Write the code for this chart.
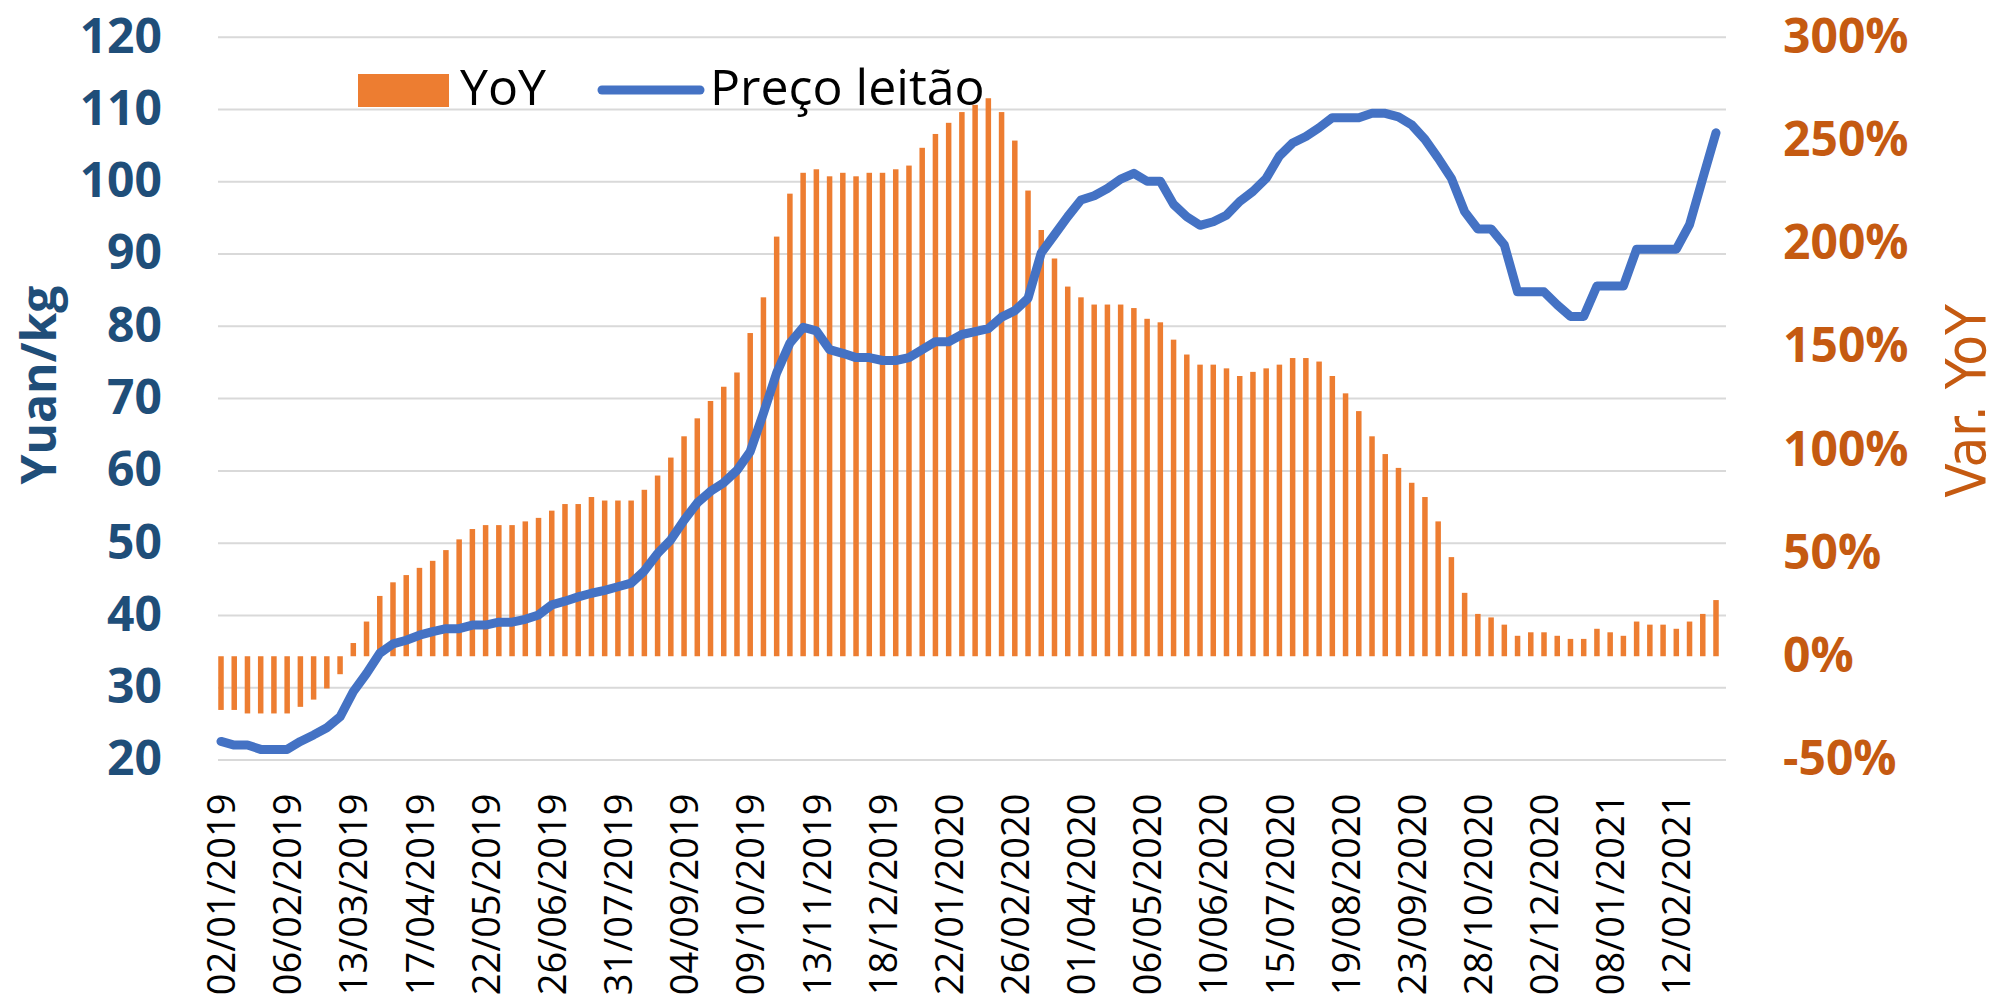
<!DOCTYPE html>
<html>
<head>
<meta charset="utf-8">
<script src="https://cdn.jsdelivr.net/npm/d3@7"></script>
<style>
  body { margin: 0; background: #fff; }
  svg { display: block; font-family: 'Open Sans', sans-serif; }
</style>
</head>
<body>
<div id="chart"></div>
<script>
// weekly dates (category axis)
const dates = [
  '02/01/2019', '09/01/2019', '16/01/2019', '23/01/2019', '30/01/2019', '06/02/2019', '13/02/2019', '20/02/2019', '27/02/2019', '06/03/2019',
  '13/03/2019', '20/03/2019', '27/03/2019', '03/04/2019', '10/04/2019', '17/04/2019', '24/04/2019', '01/05/2019', '08/05/2019', '15/05/2019',
  '22/05/2019', '29/05/2019', '05/06/2019', '12/06/2019', '19/06/2019', '26/06/2019', '03/07/2019', '10/07/2019', '17/07/2019', '24/07/2019',
  '31/07/2019', '07/08/2019', '14/08/2019', '21/08/2019', '28/08/2019', '04/09/2019', '11/09/2019', '18/09/2019', '25/09/2019', '02/10/2019',
  '09/10/2019', '16/10/2019', '23/10/2019', '30/10/2019', '06/11/2019', '13/11/2019', '20/11/2019', '27/11/2019', '04/12/2019', '11/12/2019',
  '18/12/2019', '25/12/2019', '01/01/2020', '08/01/2020', '15/01/2020', '22/01/2020', '29/01/2020', '05/02/2020', '12/02/2020', '19/02/2020',
  '26/02/2020', '04/03/2020', '11/03/2020', '18/03/2020', '25/03/2020', '01/04/2020', '08/04/2020', '15/04/2020', '22/04/2020', '29/04/2020',
  '06/05/2020', '13/05/2020', '20/05/2020', '27/05/2020', '03/06/2020', '10/06/2020', '17/06/2020', '24/06/2020', '01/07/2020', '08/07/2020',
  '15/07/2020', '22/07/2020', '29/07/2020', '05/08/2020', '12/08/2020', '19/08/2020', '26/08/2020', '02/09/2020', '09/09/2020', '16/09/2020',
  '23/09/2020', '30/09/2020', '07/10/2020', '14/10/2020', '21/10/2020', '28/10/2020', '04/11/2020', '11/11/2020', '18/11/2020', '25/11/2020',
  '02/12/2020', '09/12/2020', '16/12/2020', '23/12/2020', '30/12/2020', '08/01/2021', '15/01/2021', '22/01/2021', '29/01/2021', '05/02/2021',
  '12/02/2021', '19/02/2021', '26/02/2021', '05/03/2021'
]

// piglet price, yuan/kg
const price = [
  22.5, 22.0, 22.0, 21.4, 21.4, 21.4, 22.5, 23.4, 24.4, 25.9,
  29.4, 31.9, 34.7, 36.0, 36.5, 37.2, 37.7, 38.1, 38.1, 38.6,
  38.6, 39.0, 39.0, 39.4, 40.0, 41.4, 41.9, 42.5, 43.0, 43.4,
  43.9, 44.4, 46.1, 48.5, 50.4, 53.1, 55.5, 57.1, 58.3, 60.0,
  62.6, 67.9, 73.5, 77.6, 79.8, 79.3, 76.7, 76.2, 75.6, 75.6,
  75.2, 75.2, 75.6, 76.7, 77.8, 77.8, 78.8, 79.2, 79.6, 81.2,
  82.1, 83.8, 90.1, 92.6, 95.1, 97.4, 98.0, 99.0, 100.3, 101.1,
  100.0, 100.0, 96.8, 95.1, 93.9, 94.4, 95.3, 97.2, 98.6, 100.4,
  103.5, 105.3, 106.2, 107.4, 108.8, 108.8, 108.8, 109.4, 109.4, 108.9,
  107.8, 105.8, 103.2, 100.4, 95.8, 93.4, 93.4, 91.2, 84.7, 84.7,
  84.7, 82.9, 81.3, 81.3, 85.5, 85.5, 85.5, 90.6, 90.6, 90.6,
  90.6, 94.0, 100.4, 106.7
]

// year over year change, %
const yoy = [
  -26, -26, -27.7, -27.7, -27.7, -27.7, -24.5, -21, -15.6, -8.7,
  6.4, 16.8, 29.2, 35.8, 39.3, 42.8, 46.2, 51.4, 56.6, 61.6,
  63.5, 63.5, 63.5, 65.3, 67.0, 70.5, 73.7, 73.7, 77.1, 75.4,
  75.4, 75.4, 80.6, 87.5, 96.2, 106.5, 115.2, 123.6, 130.5, 137.4,
  156.5, 173.8, 203.2, 224.0, 234.1, 235.8, 232.4, 234.1, 232.4, 234.1,
  234.1, 235.8, 237.6, 246.2, 252.9, 258.3, 263.5, 267.0, 270.2, 263.5,
  249.7, 225.5, 206.4, 192.6, 179.0, 173.8, 170.3, 170.3, 170.3, 168.6,
  163.4, 161.7, 153.3, 146.1, 141.2, 141.2, 139.4, 135.7, 137.7, 139.4,
  141.2, 144.4, 144.4, 142.7, 135.7, 127.3, 118.7, 106.5, 97.9, 91.2,
  84.0, 77.1, 65.3, 48.0, 30.7, 20.5, 18.8, 15.3, 9.9, 11.6,
  11.6, 9.9, 8.4, 8.4, 13.3, 11.6, 9.9, 16.8, 15.3, 15.3,
  13.3, 16.8, 20.5, 27.2
]

const leftTicks = [20, 30, 40, 50, 60, 70, 80, 90, 100, 110, 120]
const rightTicks = [-50, 0, 50, 100, 150, 200, 250, 300]
const labelEvery = 5

const width = 1998
const height = 1001

const plot = { left: 218, right: 1726, top: 36.7, bottom: 759.5 }

const orange = '#ED7D31'
const blue = '#4472C4'

const svg = d3
  .select('#chart')
  .append('svg')
  .attr('width', width)
  .attr('height', height)

const xPositionScale = d3
  .scalePoint()
  .domain(dates)
  .range([221, 1716])

const yLeftScale = d3
  .scaleLinear()
  .domain([20, 120])
  .range([plot.bottom, plot.top])

const yRightScale = d3
  .scaleLinear()
  .domain([-50, 300])
  .range([plot.bottom, plot.top])

// gridlines + left labels
const yAxis = d3
  .axisLeft(yLeftScale)
  .tickValues(leftTicks)
  .tickSize(-(plot.right - plot.left))
  .tickPadding(56)

const yAxisG = svg
  .append('g')
  .attr('class', 'axis y-axis')
  .attr('transform', 'translate(' + plot.left + ',0)')
  .call(yAxis)

yAxisG.select('.domain').remove()
yAxisG.selectAll('line').attr('stroke', '#D9D9D9').attr('stroke-width', 2)
yAxisG
  .selectAll('text')
  .attr('fill', '#1F4E79')
  .attr('font-size', 48)
  .attr('font-weight', 700)
  .attr('font-family', 'Open Sans')

// right labels
const yAxisRight = d3
  .axisRight(yRightScale)
  .tickValues(rightTicks)
  .tickSize(0)
  .tickPadding(1783 - plot.right)
  .tickFormat(d => d + '%')

const yRightG = svg
  .append('g')
  .attr('class', 'axis y-axis-right')
  .attr('transform', 'translate(' + plot.right + ',0)')
  .call(yAxisRight)

yRightG.select('.domain').remove()
yRightG
  .selectAll('text')
  .attr('fill', '#C55A11')
  .attr('font-size', 48)
  .attr('font-weight', 700)
  .attr('font-family', 'Open Sans')

// date labels
const xAxis = d3
  .axisBottom(xPositionScale)
  .tickValues(dates.filter((d, i) => i % labelEvery === 0))
  .tickSize(0)

const xAxisG = svg
  .append('g')
  .attr('class', 'axis x-axis')
  .attr('transform', 'translate(0,' + plot.bottom + ')')
  .call(xAxis)

xAxisG.select('.domain').remove()
xAxisG
  .selectAll('text')
  .attr('transform', 'rotate(-90)')
  .attr('x', -34)
  .attr('y', 0)
  .attr('dy', '0.36em')
  .attr('text-anchor', 'end')
  .attr('fill', '#000')
  .attr('font-size', 38)
  .attr('font-family', 'Open Sans')

// YoY bars
const barWidth = 5.5

svg
  .append('g')
  .selectAll('rect')
  .data(yoy)
  .enter()
  .append('rect')
  .attr('x', (d, i) => xPositionScale(dates[i]) - barWidth / 2)
  .attr('y', d => yRightScale(Math.max(d, 0)))
  .attr('width', barWidth)
  .attr('height', d => Math.abs(yRightScale(d) - yRightScale(0)))
  .attr('fill', orange)

// price line
const line = d3
  .line()
  .x((d, i) => xPositionScale(dates[i]))
  .y(d => yLeftScale(d))

svg
  .append('path')
  .datum(price)
  .attr('d', line)
  .attr('fill', 'none')
  .attr('stroke', blue)
  .attr('stroke-width', 9)
  .attr('stroke-linejoin', 'round')
  .attr('stroke-linecap', 'round')

// axis titles
svg
  .append('text')
  .attr('transform', 'translate(56,385) rotate(-90)')
  .attr('text-anchor', 'middle')
  .attr('fill', '#1F4E79')
  .attr('font-size', 48)
  .attr('font-weight', 700)
  .text('Yuan/kg')

svg
  .append('text')
  .attr('transform', 'translate(1985,401) rotate(-90)')
  .attr('text-anchor', 'middle')
  .attr('fill', '#C55A11')
  .attr('font-size', 56)
  .attr('font-family', "'Liberation Sans Narrow', 'DejaVu Sans Condensed', sans-serif")
  .text('Var. YoY')

// legend
const legend = svg.append('g').attr('class', 'legend')

legend
  .append('rect')
  .attr('x', 358)
  .attr('y', 74)
  .attr('width', 91)
  .attr('height', 33)
  .attr('fill', orange)

legend
  .append('text')
  .attr('x', 460)
  .attr('y', 105)
  .attr('font-size', 50)
  .attr('fill', '#000')
  .text('YoY')

legend
  .append('line')
  .attr('x1', 602)
  .attr('x2', 700)
  .attr('y1', 90)
  .attr('y2', 90)
  .attr('stroke', blue)
  .attr('stroke-width', 9)
  .attr('stroke-linecap', 'round')

legend
  .append('text')
  .attr('x', 710)
  .attr('y', 105)
  .attr('font-size', 50)
  .attr('fill', '#000')
  .text('Preço leitão')
</script>
</body>
</html>
